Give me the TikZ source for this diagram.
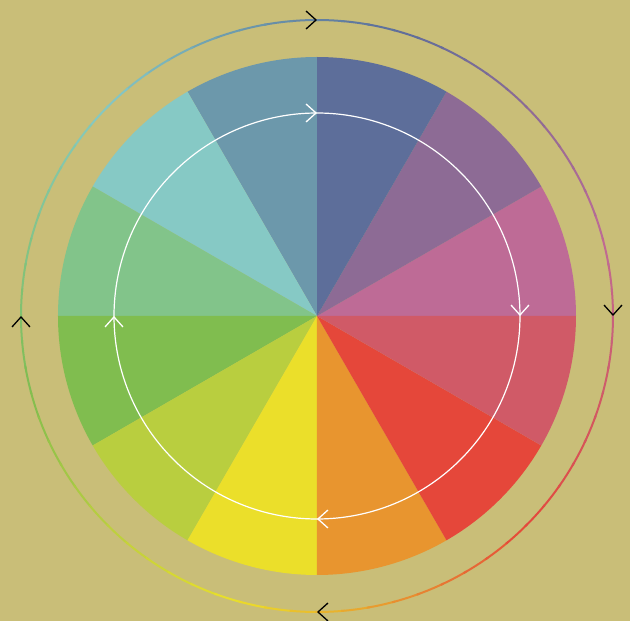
\documentclass[tikz,border=0pt]{standalone}
\usepackage{xcolor}
\usepackage{tikz}
\usetikzlibrary{arrows.meta,decorations.markings}
\definecolor{Backdrop}{HTML}{C9BE78}
\definecolor{hue0}{HTML}{BE6B96}
\definecolor{hue1}{HTML}{8D6B95}
\definecolor{hue2}{HTML}{5D6E9A}
\definecolor{hue3}{HTML}{6C98AB}
\definecolor{hue4}{HTML}{86C9C5}
\definecolor{hue5}{HTML}{82C48A}
\definecolor{hue6}{HTML}{80BD4F}
\definecolor{hue7}{HTML}{B9CE3F}
\definecolor{hue8}{HTML}{EBDF2A}
\definecolor{hue9}{HTML}{E8952F}
\definecolor{hue10}{HTML}{E5473A}
\definecolor{hue11}{HTML}{D05A67}
\tikzset{
  chevron/.tip={Straight Barb[length=10pt,width=18pt,line width=1.3pt]},
  cycletips/.style={postaction={decorate},decoration={markings,
    mark=at position 0.125 with {\arrow[#1]{chevron}},
    mark=at position 0.375 with {\arrow[#1]{chevron}},
    mark=at position 0.625 with {\arrow[#1]{chevron}},
    mark=at position 0.875 with {\arrow[#1]{chevron}}}},
  huering/.style={line width=2pt}
}
\begin{document}
\begin{tikzpicture}[x=1pt,y=1pt]
  \fill[Backdrop] (-317,-305) rectangle (313,316);
  \useasboundingbox (-317,-305) rectangle (313,316);
  % wedges of the wheel
  \foreach \k in {0,...,11} {
    \fill[hue\k] (0,0) -- (30*\k:259) arc[start angle=30*\k,end angle=30*\k+30,radius=259] -- cycle;
  }
  % outer ring, blended hue
  \foreach \k in {0,...,11} {
    \pgfmathtruncatemacro\n{mod(\k+1,12)}
    \foreach \j in {0,...,5} {
      \pgfmathtruncatemacro\p{100-(5*\j+2.5)*100/30}
      \colorlet{ringtmp}{hue\k!\p!hue\n}
      \draw[huering,ringtmp] (15+30*\k+5*\j-0.3:296) arc[start angle=15+30*\k+5*\j-0.3,end angle=15+30*\k+5*\j+5.3,radius=296];
    }
  }
  \path[cycletips=black] (45:296) arc[start angle=45,end angle=-315,radius=296];
  % inner white circle
  \draw[white,line width=1.2pt,cycletips=white] (45:203) arc[start angle=45,end angle=-315,radius=203];
\end{tikzpicture}
\end{document}
